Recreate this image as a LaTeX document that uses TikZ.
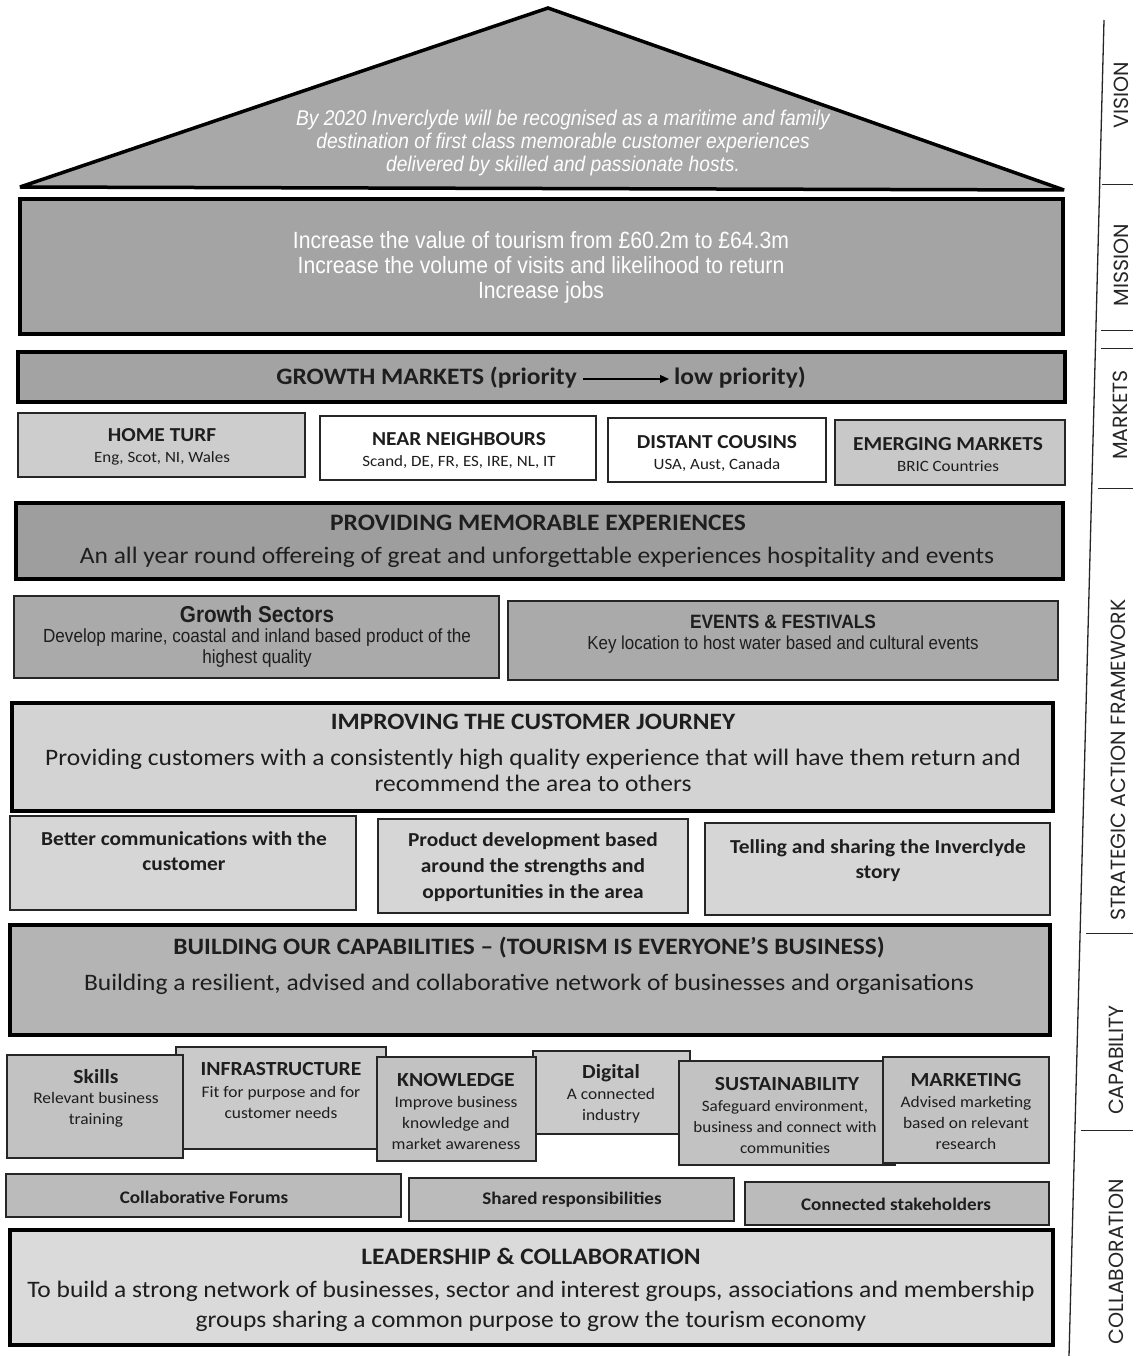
\documentclass[tikz,border=0pt]{standalone}
\usepackage{fontspec}
\setmainfont{Carlito}[FakeStretch=1.08]
\newfontfamily\arn[FakeStretch=0.9]{Liberation Sans}
\newfontfamily\gothic{Poppins}
\usetikzlibrary{arrows.meta}
\definecolor{ink}{HTML}{1E1E1E}
\definecolor{cRoof}{HTML}{A8A8A8}
\definecolor{cMis}{HTML}{A4A4A4}
\definecolor{cGM}{HTML}{A3A3A3}
\definecolor{cHome}{HTML}{CDCDCD}
\definecolor{cEmer}{HTML}{C8C8C8}
\definecolor{cProv}{HTML}{9E9E9E}
\definecolor{cSect}{HTML}{AAAAAA}
\definecolor{cImp}{HTML}{D3D3D3}
\definecolor{cThree}{HTML}{D6D6D6}
\definecolor{cBuild}{HTML}{B4B4B4}
\definecolor{cCap}{HTML}{C2C2C2}
\definecolor{cCapL}{HTML}{CACACA}
\definecolor{cColl}{HTML}{BBBBBB}
\definecolor{cLead}{HTML}{DADADA}
\newcommand{\fsz}[2]{\fontsize{#1}{#2}\selectfont}
\newcommand{\bx}[6]{\node[#2, minimum width={(#5-#3)*1pt}, minimum height={(#6-#4)*1pt}, anchor=north west] (#1) at (#3,#4) {};}
\begin{document}
\begin{tikzpicture}[x=1pt,y=-1pt,
  heavy/.style={draw=black, line width=4pt, inner sep=0pt, outer sep=0pt},
  light/.style={draw=black!85, line width=1.8pt, inner sep=0pt, outer sep=0pt},
  txt/.style={inner sep=0pt, align=center, text=ink},
  wtxt/.style={inner sep=0pt, align=center, text=white},
  side/.style={inner sep=0pt, rotate=90, text=black!85, font={\gothic\fsz{20.5}{23}}},
  tick/.style={line width=1pt, black!85}]
\useasboundingbox (0,0) rectangle (1136,1356);
\fill[white] (0,0) rectangle (1136,1356);

% ---------- roof (vision)
\coordinate (apex) at (548,8);
\coordinate (roofL) at (20,187);
\coordinate (roofR) at (1064,190);
\draw[fill=cRoof, line width=3.5pt, line join=miter, miter limit=2] (roofL) -- (apex) -- (roofR) -- cycle;
\node[wtxt, font={\arn\itshape\fsz{21.3}{23}}] (vision) at (563,143)
  {By 2020 Inverclyde will be recognised as a maritime and family\\
   destination of first class memorable customer experiences\\
   delivered by skilled and passionate hosts.};

% ---------- mission
\bx{mission}{heavy, fill=cMis}{20}{199}{1063}{334}
\node[wtxt, font={\arn\fsz{23.5}{25}}] (missiont) at (541,267)
  {Increase the value of tourism from £60.2m to £64.3m\\
   Increase the volume of visits and likelihood to return\\
   Increase jobs};

% ---------- growth markets
\bx{gm}{heavy, fill=cGM}{18}{352}{1065}{402}
\node[txt, font={\bfseries\fsz{23.6}{26}}, anchor=east] (gmL) at (577,378) {GROWTH MARKETS (priority};
\node[txt, font={\bfseries\fsz{23.6}{26}}, anchor=west] (gmR) at (674,378) {low priority)};
\draw[line width=1.3pt, -{Triangle[length=9pt,width=8pt]}] ([xshift=6pt,yshift=-1pt]gmL.east) -- ([xshift=-5pt,yshift=-1pt]gmR.west);

\bx{home}{light, fill=cHome}{18}{413}{305}{477}
\bx{near}{light, fill=white}{320}{416}{596}{480}
\bx{dist}{light, fill=white}{608}{418}{826}{482}
\bx{emer}{light, fill=cEmer}{835}{420}{1065}{485}
\node[txt, font={\bfseries\fsz{19.8}{22}}] (homeT) at (162,435) {HOME TURF};
\node[txt, font={\fsz{15.7}{18}}] (homeS) at (162,458) {Eng, Scot, NI, Wales};
\node[txt, font={\bfseries\fsz{19.8}{22}}] (nearT) at (459,439) {NEAR NEIGHBOURS};
\node[txt, font={\fsz{15.7}{18}}] (nearS) at (459,462) {Scand, DE, FR, ES, IRE, NL, IT};
\node[txt, font={\bfseries\fsz{19.8}{22}}] (distT) at (717,442) {DISTANT COUSINS};
\node[txt, font={\fsz{15.7}{18}}] (distS) at (717,465) {USA, Aust, Canada};
\node[txt, font={\bfseries\fsz{19.8}{22}}] (emerT) at (948,444) {EMERGING MARKETS};
\node[txt, font={\fsz{15.7}{18}}] (emerS) at (948,466) {BRIC Countries};

% ---------- providing memorable experiences
\bx{prov}{heavy, fill=cProv}{16}{503}{1063}{579}
\node[txt, font={\bfseries\fsz{23.6}{26}}] (provT) at (538,523) {PROVIDING MEMORABLE EXPERIENCES};
\node[txt, font={\fsz{23.6}{28}}] (provS) at (537,557) {An all year round offereing of great and unforgettable experiences hospitality and events};

\bx{sect}{light, fill=cSect}{14}{596}{499}{678}
\bx{evt}{light, fill=cSect}{508}{601}{1058}{680}
\node[txt, font={\arn\bfseries\fsz{23}{24}}] (sectT) at (257,614) {Growth Sectors};
\node[txt, font={\arn\fsz{19}{21}}] (sectS) at (257,648) {Develop marine, coastal and inland based product of the\\ highest quality};
\node[txt, font={\arn\bfseries\fsz{19.3}{21}}] (evtT) at (783,622) {EVENTS \& FESTIVALS};
\node[txt, font={\arn\fsz{18.8}{21}}] (evtS) at (783,645) {Key location to host water based and cultural events};

% ---------- improving the customer journey
\bx{imp}{heavy, fill=cImp}{12}{703}{1053}{811}
\node[txt, font={\bfseries\fsz{23.5}{25}}] (impT) at (533,722) {IMPROVING THE CUSTOMER JOURNEY};
\node[txt, font={\fsz{23.6}{26}}] (impS) at (533,770) {Providing customers with a consistently high quality experience that will have them return and\\ recommend the area to others};

\bx{comm}{light, fill=cThree}{10}{816}{356}{910}
\bx{prod}{light, fill=cThree}{378}{819}{688}{913}
\bx{tell}{light, fill=cThree}{705}{823}{1050}{915}
\node[txt, font={\bfseries\fsz{19.8}{25}}] (commT) at (184,851) {Better communications with the\\ customer};
\node[txt, font={\bfseries\fsz{19.8}{26}}] (prodT) at (533,867) {Product development based\\ around the strengths and\\ opportunities in the area};
\node[txt, font={\bfseries\fsz{19.8}{25}}] (tellT) at (878,861) {Telling and sharing the Inverclyde\\ story};

% ---------- building our capabilities
\bx{build}{heavy, fill=cBuild}{10}{925}{1050}{1035}
\node[txt, font={\bfseries\fsz{23.5}{25}}] (buildT) at (529,948) {BUILDING OUR CAPABILITIES -- (TOURISM IS EVERYONE'S BUSINESS)};
\node[txt, font={\fsz{23.6}{28}}] (buildS) at (529,984) {Building a resilient, advised and collaborative network of businesses and organisations};

\bx{infra}{light, fill=cCapL}{176}{1047}{386}{1149}
\bx{digi}{light, fill=cCapL}{533}{1051}{690}{1134}
\bx{skills}{light, fill=cCap}{7}{1055}{183}{1158}
\bx{know}{light, fill=cCap}{377}{1057}{536}{1161}
\bx{sust}{light, fill=cCap}{679}{1061}{895}{1165}
\bx{mark}{light, fill=cCap}{883}{1057}{1049}{1163}
\node[txt, font={\bfseries\fsz{20}{22}}] (skillsT) at (96,1077) {Skills};
\node[txt, font={\fsz{16.1}{21}}] (skillsS) at (96,1110) {Relevant business\\ training};
\node[txt, font={\bfseries\fsz{20}{22}}] (infraT) at (281,1069) {INFRASTRUCTURE};
\node[txt, font={\fsz{16.1}{21}}] (infraS) at (281,1102) {Fit for purpose and for\\ customer needs};
\node[txt, font={\bfseries\fsz{20}{22}}] (knowT) at (456,1080) {KNOWLEDGE};
\node[txt, font={\fsz{16.1}{21}}] (knowS) at (456,1123) {Improve business\\ knowledge and\\ market awareness};
\node[txt, font={\bfseries\fsz{20}{22}}] (digiT) at (611,1073) {Digital};
\node[txt, font={\fsz{16.1}{21}}] (digiS) at (611,1106) {A connected\\ industry};
\node[txt, font={\bfseries\fsz{20}{22}}] (sustT) at (787,1084) {SUSTAINABILITY};
\node[txt, font={\fsz{15.8}{21}}] (sustS) at (785,1127) {Safeguard environment,\\ business and connect with\\ communities};
\node[txt, font={\bfseries\fsz{20}{22}}] (markT) at (966,1080) {MARKETING};
\node[txt, font={\fsz{16.1}{21}}] (markS) at (966,1123) {Advised marketing\\ based on relevant\\ research};

% ---------- collaboration row
\bx{forum}{light, fill=cColl}{6}{1174}{401}{1217}
\bx{shared}{light, fill=cColl}{409}{1178}{734}{1221}
\bx{conn}{light, fill=cColl}{745}{1182}{1049}{1225}
\node[txt, font={\bfseries\fsz{17.7}{20}}] (forumT) at (204,1197) {Collaborative Forums};
\node[txt, font={\bfseries\fsz{17.7}{20}}] (sharedT) at (572,1200) {Shared responsibilities};
\node[txt, font={\bfseries\fsz{17.7}{20}}] (connT) at (896,1204) {Connected stakeholders};

% ---------- leadership
\bx{lead}{heavy, fill=cLead}{10}{1230}{1053}{1345}
\node[txt, font={\bfseries\fsz{23.6}{26}}] (leadT) at (531,1256) {LEADERSHIP \& COLLABORATION};
\node[txt, font={\fsz{23.6}{30}}] (leadS) at (531,1306) {To build a strong network of businesses, sector and interest groups, associations and membership\\ groups sharing a common purpose to grow the tourism economy};

% ---------- side column
\coordinate (railT) at (1104,20);
\coordinate (railB) at (1069,1356);
\draw[line width=1.3pt, black!85] (railT) -- (railB);
\foreach \yy/\xx in {185/1102, 330/1101, 348/1101, 488/1098, 933/1086, 1130/1081}
  \draw[tick] (\xx,\yy) -- (1133,\yy);
\node[side] (lVision) at (1121,95) {VISION};
\node[side] (lMission) at (1121,265) {MISSION};
\node[side] (lMarkets) at (1120,415) {MARKETS};
\node[side] (lSAF) at (1118,760) {STRATEGIC ACTION FRAMEWORK};
\node[side] (lCap) at (1116,1060) {CAPABILITY};
\node[side] (lColl) at (1116,1262) {COLLABORATION};
\end{tikzpicture}
\end{document}
